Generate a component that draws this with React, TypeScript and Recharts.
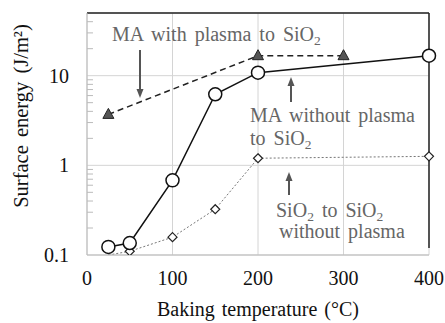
import { LineChart, Line, XAxis, YAxis, CartesianGrid, ReferenceLine } from 'recharts'

// Baking temperature (°C) and surface energy (J/m²)
const withoutPlasmaTemp = [25, 50, 100, 150, 200, 400]
const withoutPlasmaEnergy = [0.123, 0.136, 0.68, 6.2, 10.8, 16.7]

const withPlasmaTemp = [25, 200, 300]
const withPlasmaEnergy = [3.7, 16.7, 16.7]

const sio2Temp = [25, 50, 100, 150, 200, 400]
const sio2Energy = [0.1, 0.11, 0.158, 0.324, 1.2, 1.26]

const xTicks = [0, 100, 200, 300, 400]
const yTicks = [0.1, 1, 10]
const yMinorTicks = [0.2, 0.3, 0.4, 0.5, 0.6, 0.7, 0.8, 0.9, 2, 3, 4, 5, 6, 7, 8, 9, 20, 30, 40]
const yDomain = [0.1, 50]
const rightBorderBottom = 0.12
const minorTickLen = 7 // in °C along the x axis

const serif = 'Liberation Serif'

const toRows = (xs: number[], ys: number[]) => xs.map((t, i) => ({ temp: t, energy: ys[i] }))

const withoutPlasma = toRows(withoutPlasmaTemp, withoutPlasmaEnergy)
const withPlasma = toRows(withPlasmaTemp, withPlasmaEnergy)
const sio2 = toRows(sio2Temp, sio2Energy)

const Triangle = (props: any) => {
  const { cx, cy, index } = props
  return (
    <path
      key={`tri-${index}`}
      d={`M${cx},${cy - 6} L${cx + 5.5},${cy + 4} L${cx - 5.5},${cy + 4} Z`}
      fill="#555"
      stroke="#222"
      strokeWidth={1}
    />
  )
}

const Diamond = (props: any) => {
  const { cx, cy, index, value } = props
  // the 25 °C point sits on the bottom axis and is hidden there
  if (value <= yDomain[0]) return <g key={`dia-${index}`} />
  return (
    <path
      key={`dia-${index}`}
      d={`M${cx},${cy - 4.5} L${cx + 4.5},${cy} L${cx},${cy + 4.5} L${cx - 4.5},${cy} Z`}
      fill="#fff"
      stroke="#222"
      strokeWidth={1.2}
    />
  )
}

const Arrow = ({ x, y1, y2 }: { x: number; y1: number; y2: number }) => {
  const dir = y2 > y1 ? 1 : -1
  return (
    <g>
      <line x1={x} y1={y1} x2={x} y2={y2 - dir * 8} stroke="#555" strokeWidth={2} />
      <path d={`M${x - 3.5},${y2 - dir * 9} L${x + 3.5},${y2 - dir * 9} L${x},${y2} Z`} fill="#555" />
    </g>
  )
}

export default function App() {
  return (
    <div style={{ position: 'absolute', left: 0, top: 0, width: 445, height: 323, background: '#fff', fontFamily: serif }}>
      <LineChart width={445} height={323} margin={{ top: 13, right: 16, left: 0, bottom: 0 }} style={{ fontFamily: serif }}>
        <CartesianGrid stroke="#d4d4d4" strokeWidth={1} />
        <XAxis
          dataKey="temp"
          type="number"
          domain={[0, 400]}
          ticks={xTicks}
          interval={0}
          height={68}
          tickLine={false}
          tickSize={6}
          tickMargin={10}
          axisLine={{ stroke: '#bbb' }}
          tick={{ fill: '#111', fontSize: 20, style: { fontFamily: serif } }}
          allowDuplicatedCategory={false}
        />
        <YAxis
          type="number"
          scale="log"
          domain={yDomain}
          allowDataOverflow
          ticks={yTicks}
          interval={0}
          width={87}
          tickLine={false}
          tickSize={6}
          tickMargin={12}
          axisLine={{ stroke: '#bbb' }}
          tickFormatter={(v: number) => String(v)}
          tick={{ fill: '#111', fontSize: 20, style: { fontFamily: serif } }}
        />
        {yMinorTicks.map((v) => (
          <ReferenceLine
            key={`minor-${v}`}
            segment={[
              { x: 0, y: v },
              { x: minorTickLen, y: v },
            ]}
            stroke="#bbb"
            strokeWidth={1}
          />
        ))}
        <ReferenceLine y={yDomain[1]} stroke="#222" strokeWidth={1.5} />
        <ReferenceLine
          segment={[
            { x: 400, y: yDomain[1] },
            { x: 400, y: rightBorderBottom },
          ]}
          stroke="#222"
          strokeWidth={1.5}
        />
        <Line
          data={sio2}
          dataKey="energy"
          stroke="#777"
          strokeWidth={1}
          strokeDasharray="2 2"
          dot={Diamond}
          isAnimationActive={false}
        />
        <Line
          data={withPlasma}
          dataKey="energy"
          stroke="#222"
          strokeWidth={1.5}
          strokeDasharray="6 4"
          dot={Triangle}
          isAnimationActive={false}
        />
        <Line
          data={withoutPlasma}
          dataKey="energy"
          stroke="#111"
          strokeWidth={1.5}
          dot={{ r: 6.5, fill: '#fff', stroke: '#111', strokeWidth: 1.5 }}
          isAnimationActive={false}
        />
      </LineChart>
      <svg width={445} height={323} style={{ position: 'absolute', left: 0, top: 0, pointerEvents: 'none' }}>
        <g style={{ fontFamily: serif }}>
          <text x={258} y={316} textAnchor="middle" fontSize={20} wordSpacing={2} fill="#111">
            Baking temperature (°C)
          </text>
          <text
            x={28}
            y={116}
            textAnchor="middle"
            fontSize={20.5}
            wordSpacing={3}
            fill="#111"
            transform="rotate(-90 28 116)"
          >
            Surface energy  (J/m²)
          </text>
          <g fill="#666" fontSize={20} style={{ wordSpacing: 3 }}>
            <text x={112} y={41}>
              <tspan>MA with plasma to SiO</tspan>
              <tspan dy={4} fontSize={13.5}>2</tspan>
            </text>
            <text x={250} y={122}>MA without plasma</text>
            <text x={250} y={145}>
              <tspan>to SiO</tspan>
              <tspan dy={4} fontSize={13.5}>2</tspan>
            </text>
            <text x={276} y={217}>
              <tspan>SiO</tspan>
              <tspan dy={4} fontSize={13.5}>2</tspan>
              <tspan dy={-4}> to SiO</tspan>
              <tspan dy={4} fontSize={13.5}>2</tspan>
            </text>
            <text x={279} y={238}>without plasma</text>
          </g>
        </g>
        <Arrow x={140} y1={50} y2={98} />
        <Arrow x={291} y1={102} y2={77} />
        <Arrow x={289} y1={195} y2={172} />
      </svg>
    </div>
  )
}
